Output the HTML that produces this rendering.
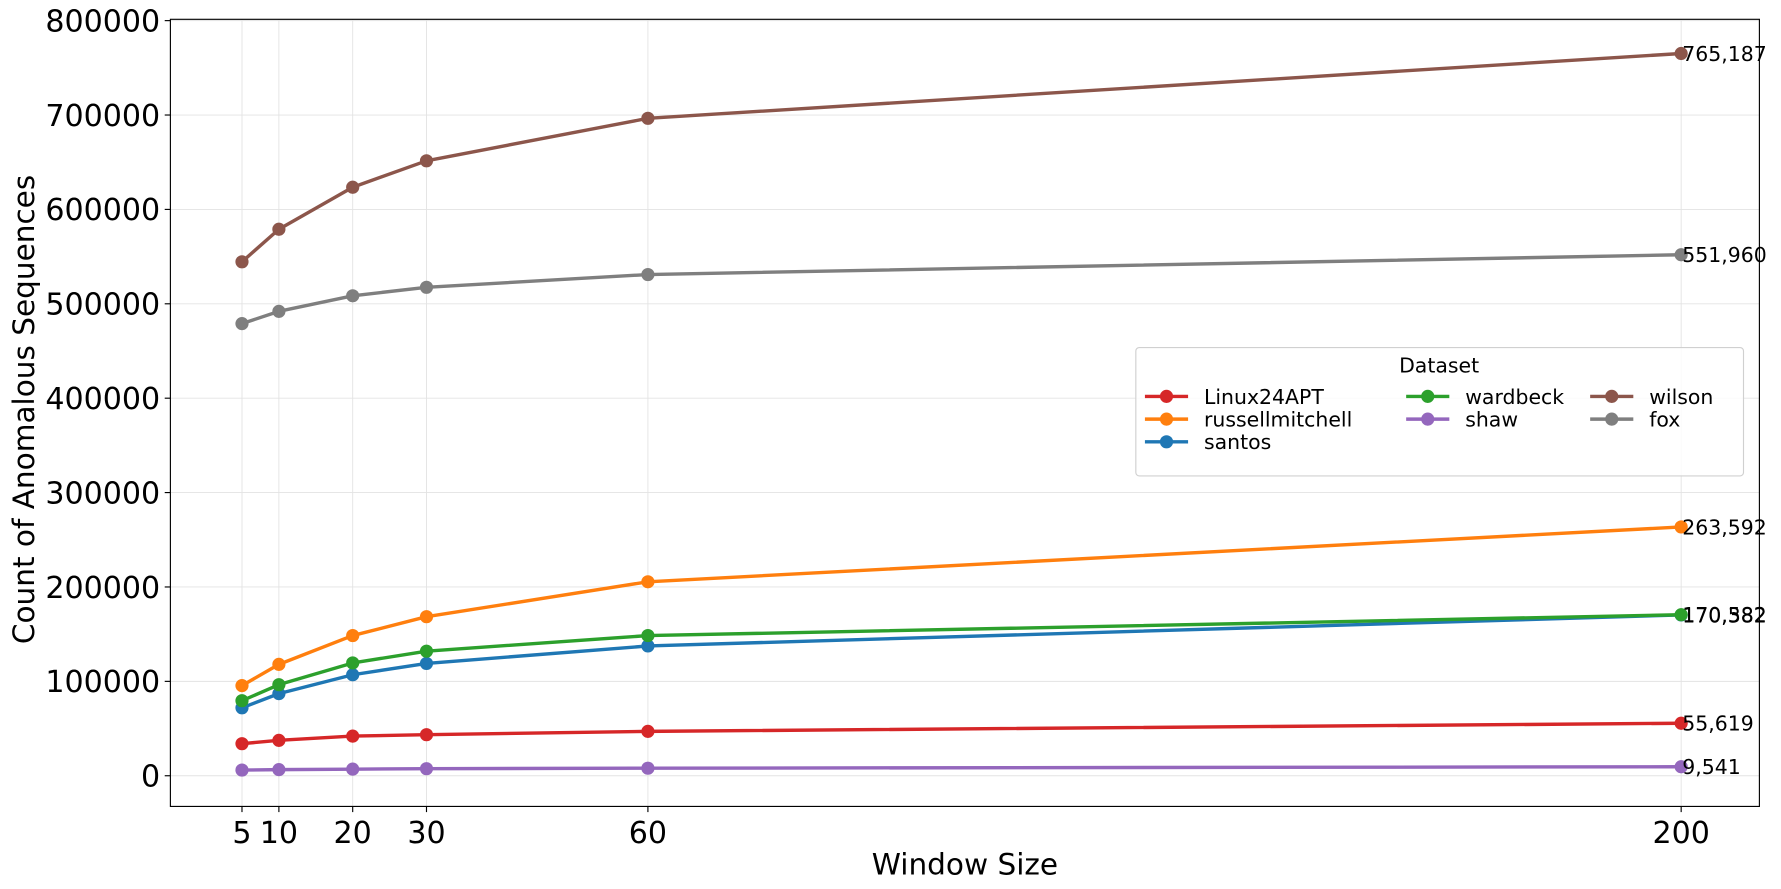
<!DOCTYPE html>
<html><head><meta charset="utf-8"><style>
html,body{margin:0;padding:0;background:#fff}
svg{display:block;font-family:"DejaVu Sans","Liberation Sans",sans-serif}
</style></head><body>
<svg id="chart" width="1781" height="889" viewBox="0 0 1568 782.7" xmlns="http://www.w3.org/2000/svg">
<g id="grid"></g>
<g id="series"></g>
<g id="axes"></g>
</svg>
<script>
const windowSizes = [5, 10, 20, 30, 60, 200];
const seriesNames = ["Linux24APT","russellmitchell","santos","wardbeck","shaw","wilson","fox"];
const linux24apt = [34000, 37500, 42000, 43500, 47000, 55619];
const russellmitchell = [95500, 118000, 148500, 168500, 205500, 263592];
const santos = [72000, 87000, 107000, 119000, 137500, 170382];
const wardbeck = [79500, 96500, 119500, 132000, 148500, 170582];
const shaw = [6000, 6500, 7000, 7500, 8000, 9541];
const wilson = [544500, 579000, 623500, 651500, 696500, 765187];
const fox = [479000, 492000, 508500, 517500, 531000, 551960];
const yTicks = [0,100000,200000,300000,400000,500000,600000,700000,800000];
const xTicks = [5,10,20,30,60,200];
const colors = ["#d62728","#ff7f0e","#1f77b4","#2ca02c","#9467bd","#8c564b","#7f7f7f"];
const allSeries = [linux24apt, russellmitchell, santos, wardbeck, shaw, wilson, fox];

const L=150,R=1549,T=17,B=710;
const xMin=-4.7,xMax=210.6,yMin=-32500,yMax=801400;
const xs=v=>L+(v-xMin)/(xMax-xMin)*(R-L);
const ys=v=>B-(v-yMin)/(yMax-yMin)*(B-T);
const NS="http://www.w3.org/2000/svg";
function mk(tag,attrs,parent,text){const e=document.createElementNS(NS,tag);for(const k in attrs)e.setAttribute(k,attrs[k]);if(text!==undefined)e.textContent=text;parent.appendChild(e);return e;}
const grid=document.getElementById('grid'),ser=document.getElementById('series'),ax=document.getElementById('axes');

yTicks.forEach(t=>{
  const g=mk('line',{x1:L,x2:R,y1:ys(t),y2:ys(t),stroke:'#e3e3e3','stroke-width':0.8},grid);
  
  
  const tk=mk('line',{x1:L-5,x2:L,y1:ys(t),y2:ys(t),stroke:'#000','stroke-width':1},ax);
  
  
  const lb=mk('text',{x:L-9,y:ys(t)+9.5,'text-anchor':'end','font-size':26.5},ax,String(t));
  
  
});
xTicks.forEach(t=>{
  const g=mk('line',{x1:xs(t),x2:xs(t),y1:T,y2:B,stroke:'#e3e3e3','stroke-width':0.8},grid);
  
  
  const tk=mk('line',{x1:xs(t),x2:xs(t),y1:B,y2:B+5,stroke:'#000','stroke-width':1},ax);
  
  
  const lb=mk('text',{x:xs(t),y:B+32,'text-anchor':'middle','font-size':26.5},ax,String(t));
  
  
});
const frame=mk('rect',{x:L,y:T,width:R-L,height:B-T,fill:'none',stroke:'#000','stroke-width':1},ax);


const xt=mk('text',{x:(L+R)/2,y:770,'text-anchor':'middle','font-size':26},ax,'Window Size');


const yt=mk('text',{x:0,y:0,'text-anchor':'middle','font-size':26,transform:`translate(30,${(T+B)/2-3}) rotate(-90)`},ax,'Count of Anomalous Sequences');



allSeries.forEach((vals,i)=>{
  const g=mk('g',{},ser);
  
  
  const pts=vals.map((v,j)=>xs(windowSizes[j])+','+ys(v)).join(' ');
  const pl=mk('polyline',{points:pts,fill:'none',stroke:colors[i],'stroke-width':3,'stroke-linejoin':'round'},g);
  
  
  vals.forEach((v,j)=>{
    const c=mk('circle',{cx:xs(windowSizes[j]),cy:ys(v),r:5.8,fill:colors[i]},g);
    
    
  });
  const last=vals[vals.length-1];
  const lb=mk('text',{x:xs(windowSizes[windowSizes.length-1])+1,y:ys(last)+6.5,'font-size':18},g,last.toLocaleString('en-US'));
  
  
});

// legend
const lg=mk('g',{},ax);


const lr=mk('rect',{x:1000,y:306,width:535,height:113,rx:3,fill:'#fff','fill-opacity':0.85,stroke:'#d0d0d0'},lg);


const ltitle=mk('text',{x:1267,y:328,'text-anchor':'middle','font-size':18},lg,'Dataset');


const colX=[1008,1238,1400], rowY=[349,369,389];
const pos=[[0,0],[0,1],[0,2],[1,0],[1,1],[2,0],[2,1]];
seriesNames.forEach((n,i)=>{
  const [c,r]=pos[i];const x=colX[c],y=rowY[r];
  const e=mk('g',{},lg);
  
  
  mk('line',{x1:x,x2:x+38,y1:y,y2:y,stroke:colors[i],'stroke-width':3},e);
  mk('circle',{cx:x+19,cy:y,r:5.8,fill:colors[i]},e);
  mk('text',{x:x+52,y:y+6.5,'font-size':18},e,n);
});
</script>
</body></html>
